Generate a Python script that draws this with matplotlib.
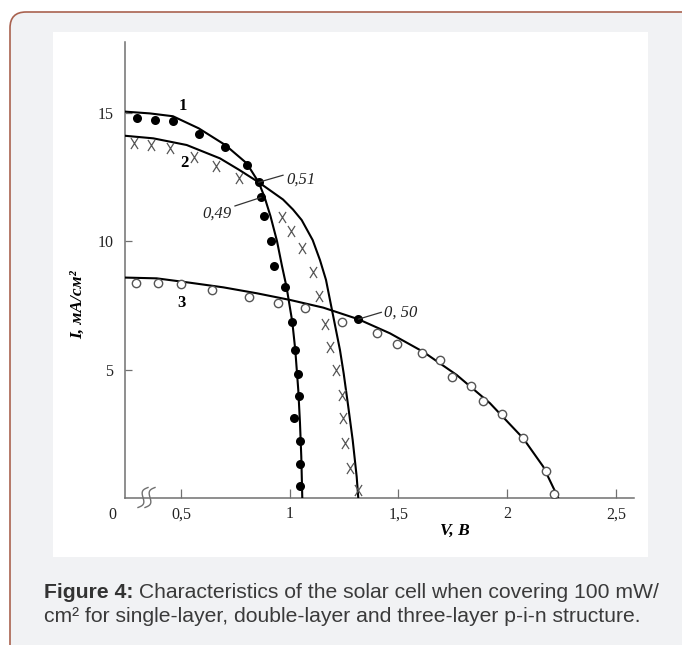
import numpy as np
import matplotlib
matplotlib.use("Agg")
import matplotlib.pyplot as plt
from matplotlib.patches import FancyBboxPatch, Rectangle
from matplotlib.lines import Line2D
from matplotlib.path import Path

# ---------------- data ----------------
# curve 1 : single-layer (filled dots)
c1_line_V = [0.2425, 0.3575, 0.463, 0.5814, 0.7037, 0.802, 0.857, 0.8839, 0.9115,
             0.9414, 0.9644, 0.9851, 1.0117, 1.0255, 1.0393, 1.0471, 1.0531, 1.0577]
c1_line_I = [15.04, 14.97, 14.86, 14.39, 13.74, 13.03, 12.29, 11.72, 10.97,
             10.00, 9.03, 8.22, 6.86, 5.76, 4.20, 2.92, 1.61, 0.0]
c1_pts_V = [0.299, 0.382, 0.462, 0.581, 0.704, 0.802, 0.857, 0.868, 0.882, 0.912,
            0.928, 0.980, 1.012, 1.0255, 1.0366, 1.0425, 1.021, 1.0457, 1.0485, 1.0485]
c1_pts_I = [14.78, 14.71, 14.69, 14.17, 13.65, 12.97, 12.29, 11.70, 10.97, 10.00,
            9.03, 8.22, 6.86, 5.75, 4.83, 3.97, 3.11, 2.22, 1.34, 0.47]

# curve 2 : double-layer (crosses)
c2_line_V = [0.2425, 0.3726, 0.5262, 0.6793, 0.768, 0.857, 0.969, 1.0149, 1.0549, 1.1055,
             1.1391, 1.1667, 1.1897, 1.2126, 1.2310, 1.248, 1.2692, 1.2894, 1.3078, 1.3152]
c2_line_I = [14.10, 14.00, 13.74, 13.22, 12.77, 12.29, 11.62, 11.23, 10.82, 10.04,
             9.26, 8.49, 7.51, 6.54, 5.76, 4.85, 3.55, 2.26, 0.83, 0.0]
c2_pts_V = [0.2839, 0.3607, 0.4494, 0.5598, 0.6609, 0.768, 0.9644, 1.0044, 1.0549,
            1.1083, 1.1331, 1.1607, 1.1851, 1.214, 1.2389, 1.2448, 1.2552, 1.277, 1.3124]
c2_pts_I = [13.83, 13.74, 13.61, 13.29, 12.92, 12.46, 10.95, 10.40, 9.72,
            8.81, 7.86, 6.76, 5.87, 4.98, 4.01, 3.10, 2.13, 1.18, 0.31]

# curve 3 : three-layer (open circles)
c3_line_V = [0.2425, 0.3883, 0.5414, 0.6945, 0.848, 1.0011, 1.1543, 1.3152, 1.4609,
             1.614, 1.7676, 1.9207, 2.0738, 2.1657, 2.2347]
c3_line_I = [8.58, 8.55, 8.38, 8.20, 7.97, 7.71, 7.41, 6.96, 6.41,
             5.69, 4.79, 3.69, 2.32, 1.22, 0.0]
c3_pts_V = [0.2931, 0.3929, 0.500, 0.6448, 0.8126, 0.9474, 1.0701, 1.2389, 1.4025,
            1.4945, 1.608, 1.6908, 1.746, 1.8333, 1.8899, 1.9745, 2.0738, 2.1768, 2.2136]
c3_pts_I = [8.38, 8.36, 8.32, 8.08, 7.84, 7.60, 7.38, 6.86, 6.41,
            5.99, 5.66, 5.37, 4.70, 4.36, 3.78, 3.27, 2.32, 1.06, 0.17]
# maximum power point of curve 3
mpp3_V = [1.3152]
mpp3_I = [6.96]

x_ticks = [0.5, 1.0, 1.5, 2.0, 2.5]
x_tick_labels = ["0,5", "1", "1,5", "2", "2,5"]
y_ticks = [5, 10, 15]
y_tick_labels = ["5", "10", "15"]

curve_labels = ["1", "2", "3"]
ff_labels = ["0,51", "0,49", "0, 50"]

caption_bold = "Figure 4:"
caption_rest = " Characteristics of the solar cell when covering 100 mW/"
caption_line2 = "cm\u00b2 for single-layer, double-layer and three-layer p-i-n structure."

# ---------------- figure ----------------
W, H, DPI = 682, 645, 100
fig = plt.figure(figsize=(W / DPI, H / DPI), dpi=DPI, facecolor="white")

SERIF = ["Liberation Serif", "DejaVu Serif"]
SANS = ["Liberation Sans", "DejaVu Sans"]

# rounded outer frame (px coords -> inches)
frame = FancyBboxPatch((10 / DPI, -0.4), 7.5, (H - 12) / DPI + 0.4,
                       boxstyle="round,pad=0,rounding_size=0.16",
                       transform=fig.dpi_scale_trans, facecolor="#f1f2f4",
                       edgecolor="#a9624f", linewidth=1.2, zorder=0)
fig.patches.append(frame)
# white picture panel
panel = Rectangle((53 / W, 1 - 557 / H), (648 - 53) / W, (557 - 32) / H,
                  transform=fig.transFigure, facecolor="white", edgecolor="none", zorder=1)
fig.patches.append(panel)

ax = fig.add_axes([124.5 / W, 1 - 498 / H, (634 - 124.5) / W, (498 - 42) / H])
ax.set_facecolor("none")
ax.set_zorder(2)
ax.set_xlim(0.2402, 2.583)
ax.set_ylim(0, 17.75)

for s in ["top", "right"]:
    ax.spines[s].set_visible(False)
for s in ["left", "bottom"]:
    ax.spines[s].set_color("#707070")
    ax.spines[s].set_linewidth(1.1)

ax.set_xticks(x_ticks)
ax.set_xticklabels(x_tick_labels)
ax.set_yticks(y_ticks)
ax.set_yticklabels(y_tick_labels)
ax.tick_params(axis="x", direction="in", length=6.5, width=0.9, color="#707070",
               pad=6, labelsize=11.5, labelcolor="#222222")
ax.tick_params(axis="y", direction="in", length=5, width=0.9, color="#707070",
               pad=8, labelsize=11.5, labelcolor="#222222")
for lab in ax.get_xticklabels() + ax.get_yticklabels():
    lab.set_family(SERIF)

# lines
ax.plot(c1_line_V, c1_line_I, color="black", lw=1.5, zorder=3, solid_joinstyle="round")
ax.plot(c2_line_V, c2_line_I, color="black", lw=1.5, zorder=3, solid_joinstyle="round")
ax.plot(c3_line_V, c3_line_I, color="black", lw=1.5, zorder=3, solid_joinstyle="round")

# markers
cross = Path([(-0.32, -0.5), (0.32, 0.5), (-0.32, 0.5), (0.32, -0.5)],
             [Path.MOVETO, Path.LINETO, Path.MOVETO, Path.LINETO])
ax.plot(c2_pts_V, c2_pts_I, ls="none", marker=cross, ms=8, mew=0.9,
        mec="#555555", mfc="none", zorder=4)
ax.plot(c3_pts_V, c3_pts_I, ls="none", marker="o", ms=6, mew=1.0,
        mec="#555555", mfc="white", zorder=4)
ax.plot(c1_pts_V, c1_pts_I, ls="none", marker="o", ms=6.5, mew=0,
        mfc="black", zorder=5)
ax.plot(mpp3_V, mpp3_I, ls="none", marker="o", ms=6.5, mew=0, mfc="black", zorder=5)

# curve numbers
lab_pos = [(0.508, 15.27), (0.518, 13.04), (0.503, 7.59)]
for t, (v, i) in zip(curve_labels, lab_pos):
    ax.text(v, i, t, family=SERIF, fontweight="bold", fontsize=12,
            ha="center", va="center", zorder=6)

# fill-factor annotations
ann = [
    (ff_labels[0], (c1_pts_V[6], c1_pts_I[6]), (0.9828, 12.38), "left", (0, 0.85)),
    (ff_labels[1], (c1_pts_V[7], c1_pts_I[7]), (0.7345, 11.05), "right", (1, 0.95)),
    (ff_labels[2], (mpp3_V[0], mpp3_I[0]), (1.4347, 7.20), "left", (0, 0.6)),
]
for t, xy, xyt, ha, rp in ann:
    ax.annotate(t, xy=xy, xytext=xyt, ha=ha, va="center", family=SERIF,
                style="italic", fontsize=12, color="#222222", zorder=6,
                arrowprops=dict(arrowstyle="-", color="#333333", lw=0.9,
                                shrinkA=0, shrinkB=0, relpos=rp))

# axis labels
fig.text(78 / W, 1 - 305 / H, "I, мА/см\u00b2", rotation=90, ha="center",
         va="center", family=SERIF, fontweight="bold", style="italic", fontsize=12.5)
fig.text(455 / W, 1 - 531 / H, "V, В", ha="center", va="center", family=SERIF,
         fontweight="bold", style="italic", fontsize=12.5)
fig.text(112 / W, 1 - 515 / H, "0", ha="center", va="center", family=SERIF,
         fontsize=11.5, color="#222222")

# axis break mark on the x axis
t = np.linspace(0, 1, 40)
for dx in (0.0, 7.0):
    cx, cy = 143.0 + dx, 497.5
    bx = cx + (-5 + 10 * t)
    by = cy + (10 - 20 * t)
    off = 3.2 * np.sin(2 * np.pi * t)
    px = bx + off * 0.9
    py = by + off * 0.45
    fig.add_artist(Line2D(px / DPI, (H - py) / DPI, transform=fig.dpi_scale_trans,
                          color="#707070", lw=1.0, zorder=7))

# caption
r = fig.canvas.get_renderer()
y1 = 1 - 592 / H
y2 = 1 - 617 / H
CAP_FS = 15.2
tb = fig.text(43.5 / W, y1, caption_bold, family=SANS, fontweight="bold",
              fontsize=CAP_FS, color="#333333", va="center", ha="left")
bb = tb.get_window_extent(renderer=r)
fig.text(bb.x1 / W, y1, caption_rest, family=SANS, fontsize=CAP_FS,
         color="#3a3a3a", va="center", ha="left")
fig.text(43.5 / W, y2, caption_line2, family=SANS, fontsize=CAP_FS,
         color="#3a3a3a", va="center", ha="left")

fig.savefig("out.png", dpi=DPI, facecolor="white")
